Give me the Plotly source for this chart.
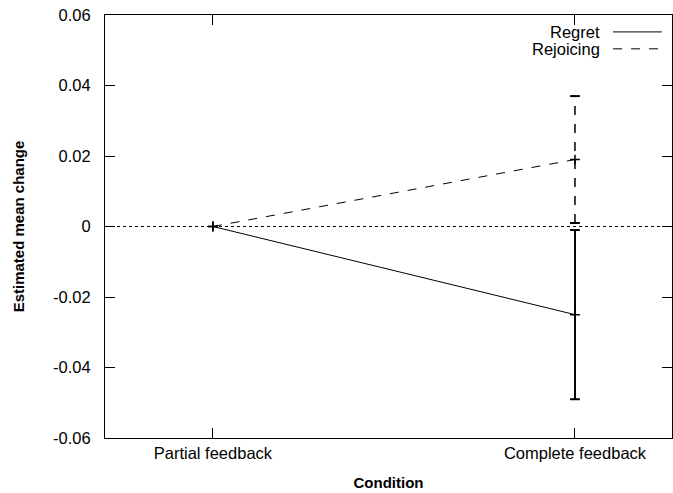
import plotly.graph_objects as go

conditions = ["Partial feedback", "Complete feedback"]
regret_mean = [0.0, -0.025]
regret_err = [0.0, 0.024]
rejoice_mean = [0.0, 0.019]
rejoice_err = [0.0, 0.018]
y_ticks = [-0.06, -0.04, -0.02, 0, 0.02, 0.04, 0.06]
y_tick_labels = ["-0.06", "-0.04", "-0.02", "0", "0.02", "0.04", "0.06"]

xpos = list(range(len(conditions)))
FONT = "Liberation Sans, Arial, sans-serif"
TICK_SIZE = 16.5
TITLE_SIZE = 15

fig = go.Figure()

def add_series(mean, err, dash, width_bar):
    fig.add_trace(go.Scatter(x=xpos, y=mean, mode="lines+markers",
                             line=dict(color="black", width=1, dash=dash),
                             marker=dict(symbol="cross-thin-open", size=7,
                                         line=dict(color="black", width=1.5)),
                             showlegend=False, hoverinfo="skip"))
    for xi, m, e in zip(xpos, mean, err):
        if e <= 0:
            continue
        fig.add_trace(go.Scatter(x=[xi, xi], y=[m - e, m + e], mode="lines+markers",
                                 line=dict(color="black", width=width_bar, dash=dash),
                                 marker=dict(symbol="line-ew-open", size=7,
                                             line=dict(color="black", width=2)),
                                 showlegend=False, hoverinfo="skip"))

add_series(regret_mean, regret_err, "solid", 2)
add_series(rejoice_mean, rejoice_err, "dash", 1.5)

fig.add_hline(y=0, line=dict(color="black", width=1, dash="dot"), layer="below")

axis_common = dict(showline=True, linecolor="black", linewidth=1, mirror="ticks",
                   ticks="inside", ticklen=10, tickcolor="black", showgrid=False,
                   zeroline=False, ticklabeloverflow="allow",
                   tickfont=dict(family=FONT, size=TICK_SIZE, color="black"))

fig.update_xaxes(range=[-0.298, 1.268], tickvals=xpos, ticktext=conditions,
                 title=dict(text="<b>Condition</b>", font=dict(family=FONT, size=TITLE_SIZE, color="black"),
                            standoff=16),
                 **axis_common)
fig.update_yaxes(range=[-0.06, 0.06], tickvals=y_ticks, ticktext=y_tick_labels,
                 ticklabelstandoff=10,
                 title=dict(text="<b>Estimated mean change</b>", font=dict(family=FONT, size=TITLE_SIZE, color="black"),
                            standoff=24),
                 **axis_common)

legend_items = [("Regret", "solid", 0.960), ("Rejoicing", "dash", 0.920)]
for label, dash, yy in legend_items:
    fig.add_annotation(x=0.877, y=yy, xref="paper", yref="paper", text=label,
                       showarrow=False, xanchor="right", yanchor="middle",
                       font=dict(family=FONT, size=TICK_SIZE, color="black"))
    fig.add_shape(type="line", xref="paper", yref="paper", x0=0.896, x1=0.982, y0=yy, y1=yy,
                  line=dict(color="black", width=1, dash=dash))

fig.update_layout(width=673, height=493, plot_bgcolor="white", paper_bgcolor="white",
                  margin=dict(l=105, r=1, t=15, b=55, autoexpand=False), showlegend=False,
                  font=dict(family=FONT, color="black"))

fig.write_html("out.html", config={"displayModeBar": False},
               post_script="document.body.style.margin='0';")
